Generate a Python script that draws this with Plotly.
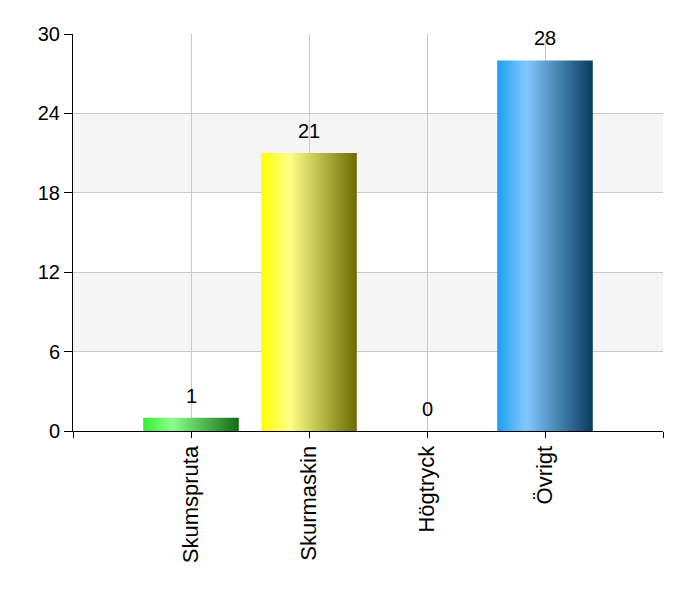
import plotly.graph_objects as go

# Data
categories = ["Skumspruta", "Skurmaskin", "Högtryck", "Övrigt"]
values = [1, 21, 0, 28]
y_ticks = [0, 6, 12, 18, 24, 30]

# gradient colour stops per bar (left, highlight, right)
gradients = [
    ["#33ee33", "#8cff8c", "#136b13"],
    ["#ffff00", "#ffff88", "#6b6b00"],
    ["#ff5555", "#ffaaaa", "#771111"],
    ["#1a9ff0", "#82c9ff", "#083a5e"],
]

bar_w = 0.81
fig = go.Figure()

for i, (cat, v) in enumerate(zip(categories, values)):
    x0 = i + 1 - bar_w / 2
    x1 = i + 1 + bar_w / 2
    c = gradients[i]
    if v > 0:
        fig.add_trace(go.Scatter(
            x=[x0, x1, x1, x0, x0],
            y=[0, 0, v, v, 0],
            mode="lines",
            fill="toself",
            line=dict(width=0),
            fillgradient=dict(type="horizontal",
                              colorscale=[[0, c[0]], [0.3, c[1]], [1, c[2]]]),
            showlegend=False,
            hoverinfo="skip",
        ))

# value labels above the bars
for i, v in enumerate(values):
    fig.add_annotation(x=i + 1, y=v, text=str(v), showarrow=False,
                       yanchor="bottom", yshift=9,
                       font=dict(size=20, color="black"))

# alternating background bands
for y0, y1 in [(6, 12), (18, 24)]:
    fig.add_shape(type="rect", xref="paper", yref="y", x0=0, x1=1, y0=y0, y1=y1,
                  fillcolor="#f5f5f5", line=dict(width=0), layer="below")

fig.update_layout(
    width=700, height=600,
    margin=dict(l=65, r=45, t=26, b=177),
    plot_bgcolor="white",
    paper_bgcolor="white",
    font=dict(family="Liberation Sans, Arial", size=20, color="black"),
)

fig.update_xaxes(
    range=[0, 5],
    tickvals=[0, 1, 2, 3, 4, 5],
    ticktext=[""] + categories + [""],
    tickangle=-90,
    tickfont=dict(size=22),
    ticklabelstandoff=-1,
    showgrid=True, gridcolor="#c8c8c8", gridwidth=1,
    showline=True, linecolor="black", linewidth=1,
    ticks="outside", ticklen=6, tickcolor="black",
    zeroline=False,
)
fig.update_yaxes(
    range=[0, 30],
    tickvals=y_ticks,
    showgrid=True, gridcolor="#c8c8c8", gridwidth=1,
    showline=True, linecolor="black", linewidth=1,
    ticks="outside", ticklen=8, tickcolor="black",
    zeroline=False,
)

fig.write_html("out.html")
